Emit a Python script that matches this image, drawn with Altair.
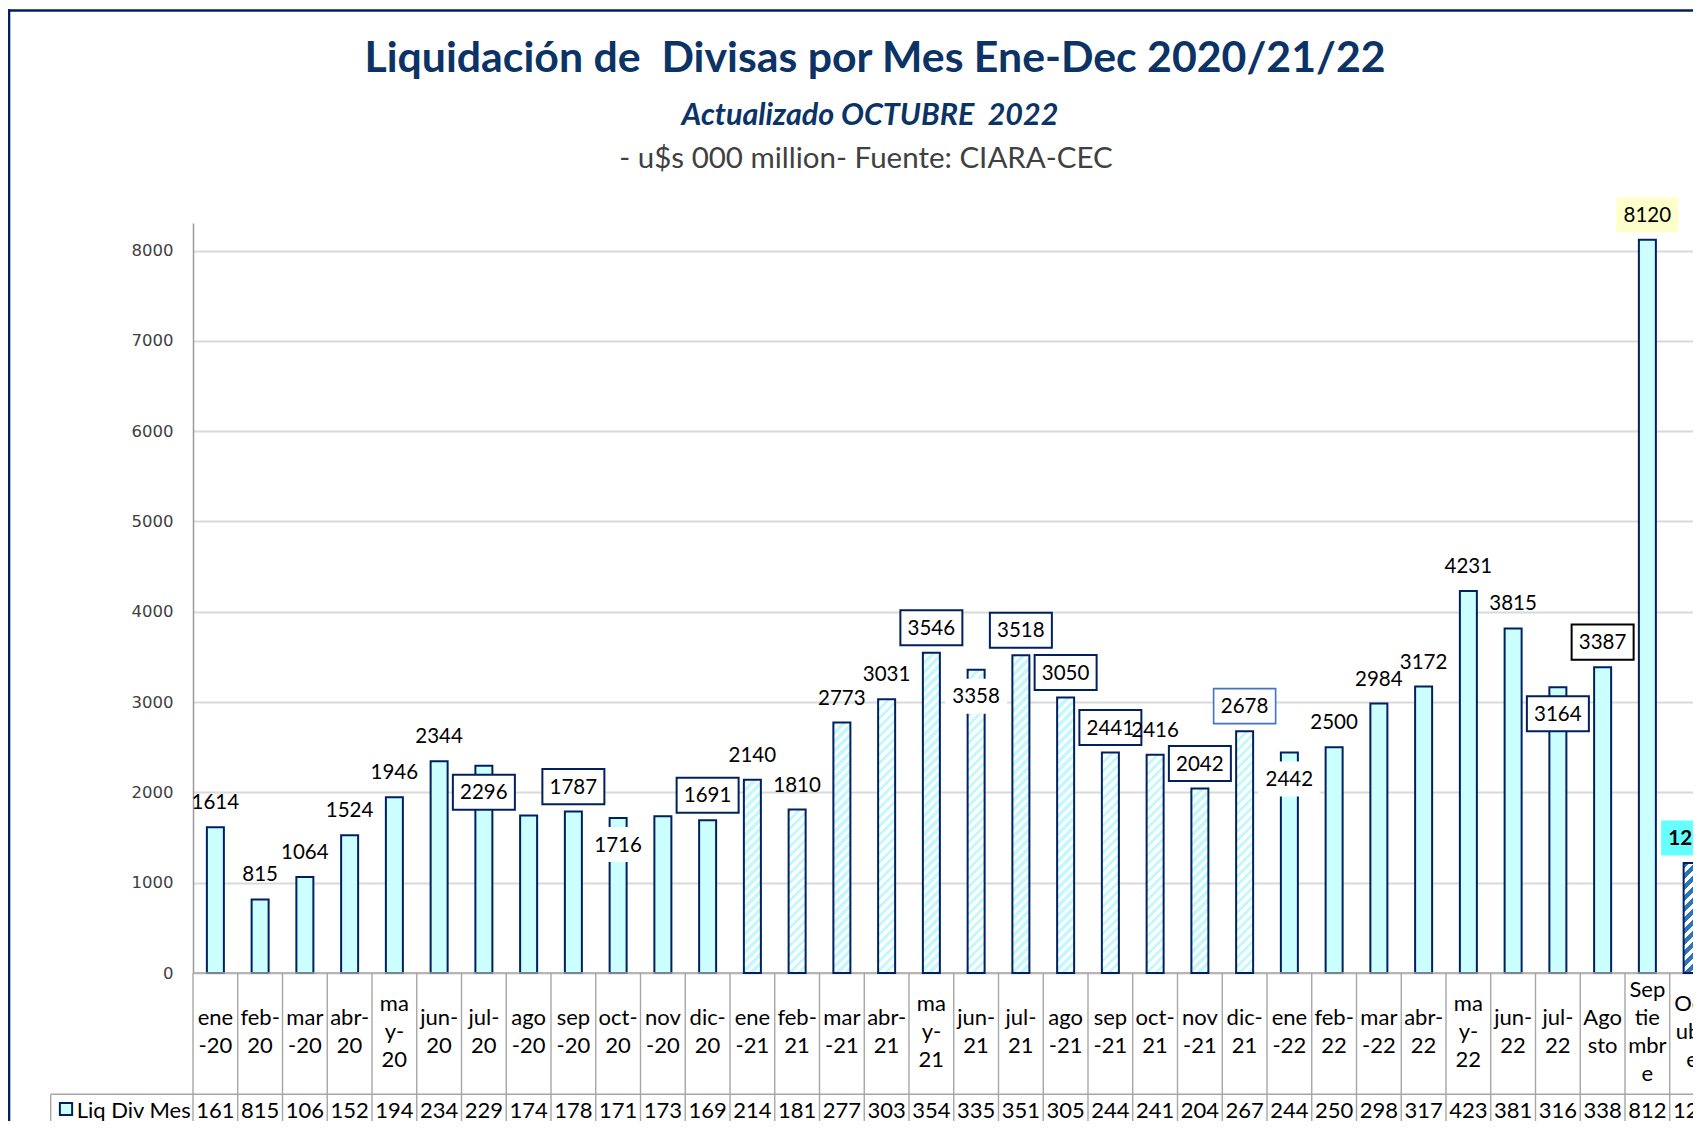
import altair as alt
import pandas as pd

# ---------------- data ----------------
months = ["ene-20", "feb-20", "mar-20", "abr-20", "may-20", "jun-20", "jul-20", "ago-20",
          "sep-20", "oct-20", "nov-20", "dic-20",
          "ene-21", "feb-21", "mar-21", "abr-21", "may-21", "jun-21", "jul-21", "ago-21",
          "sep-21", "oct-21", "nov-21", "dic-21",
          "ene-22", "feb-22", "mar-22", "abr-22", "may-22", "jun-22", "jul-22",
          "Agosto", "Septiembre", "Octubre"]
values = [1614, 815, 1064, 1524, 1946, 2344, 2296, 1745, 1787, 1716, 1736, 1691,
          2140, 1810, 2773, 3031, 3546, 3358, 3518, 3050, 2441, 2416, 2042, 2678,
          2442, 2500, 2984, 3172, 4231, 3815, 3164, 3387, 8120, 1219]
month_labels = ["ene|-20", "feb-|20", "mar|-20", "abr-|20", "ma|y-|20", "jun-|20", "jul-|20",
                "ago|-20", "sep|-20", "oct-|20", "nov|-20", "dic-|20",
                "ene|-21", "feb-|21", "mar|-21", "abr-|21", "ma|y-|21", "jun-|21", "jul-|21",
                "ago|-21", "sep|-21", "oct-|21", "nov|-21", "dic-|21",
                "ene|-22", "feb-|22", "mar|-22", "abr-|22", "ma|y-|22", "jun-|22", "jul-|22",
                "Ago|sto", "Sep|tie|mbr|e", "Oct|ubr|e"]
table_values = ["161", "815", "106", "152", "194", "234", "229", "174", "178", "171", "173", "169",
                "214", "181", "277", "303", "354", "335", "351", "305", "244", "241", "204", "267",
                "244", "250", "298", "317", "423", "381", "316", "338", "812", "121"]
y_ticks = [0, 1000, 2000, 3000, 4000, 5000, 6000, 7000, 8000]

title_text = "Liquidación de \u00a0Divisas por Mes Ene-Dec 2020/21/22"
subtitle_text = "Actualizado OCTUBRE \u00a02022"
source_text = "- u$s 000 million- Fuente: CIARA-CEC"
legend_text = "Liq Div Mes"

# label styles per month
plain_above = ["ene-20", "feb-20", "mar-20", "abr-20", "may-20", "jun-20", "ene-21", "feb-21",
               "mar-21", "abr-21", "oct-21", "feb-22", "mar-22", "abr-22", "may-22", "jun-22"]
box_above = ["sep-20", "dic-20", "may-21", "jul-21", "ago-21", "sep-21", "nov-21"]
lightbox_above = ["dic-21"]
blackbox_above = ["Agosto"]
yellow_above = ["Septiembre"]
cyan_above = ["Octubre"]
box_inside = ["jul-20", "jul-22"]
white_inside = ["oct-20", "jun-21", "ene-22"]
hatched_light = months[12:24]
hatched_dark = ["Octubre"]

# category slot of each month (left edge = slot index, centre = index + 0.5)
df = pd.DataFrame({"m": months, "v": values, "wrap": month_labels, "tbl": table_values,
                   "lbl": [str(v) for v in values],
                   "nl": [s.count("|") + 1 for s in month_labels],
                   "slot": list(range(len(months)))})
df["mid"] = df["slot"] + 0.5

# ---------------- geometry / style ----------------
STEP = 44.75                  # px per month column
W = 1500                      # visible plot width (the chart is cut at the right edge)
H = 750
YMAX = 8305
PPU = H / YMAX
BAR_W = 17
NAVY = "#002060"
TITLE = "#0B3366"
CYAN = "#CCFFFF"
GRID = "#D9D9D9"
TABLE = "#A6A6A6"
FONT = "Lato"
ABOVE = -25
INSIDE = 26.5
TXT_DY = 1
BOX = "M-1,-0.565H1V0.565H-1Z"
BOX_SIZE = 62 * 62
LH = 28.3

xscale = alt.Scale(domain=[0, W / STEP], nice=False, zero=False, padding=0)
xs = alt.X("mid:Q", scale=xscale, axis=None)
xb = alt.X("slot:Q", scale=xscale, axis=None)
ys = alt.Y("v:Q", scale=alt.Scale(domain=[0, YMAX], nice=False, padding=0),
           axis=alt.Axis(values=y_ticks, format="d", title=None, grid=True, gridColor=GRID,
                         gridWidth=2, ticks=False, domainColor="#9A9A9A", domainWidth=1.5,
                         labelFont="DejaVu Sans", labelFontSize=16.5, labelColor="#404040",
                         labelPadding=20))
ys_plain = alt.Y("v:Q", scale=alt.Scale(domain=[0, YMAX], nice=False, padding=0))

base = alt.Chart(df)


def one(d):
    return alt.Chart(alt.Data(values=[d]))


def hatch(v, period, frac, bg, fg):
    h = v * PPU
    s = BAR_W + h
    d = BAR_W * BAR_W + h * h
    stops = []
    k = 0
    while k * period / s < 1:
        a = k * period / s
        b = min((k * period + frac * period) / s, 1)
        c = min((k + 1) * period / s, 1)
        stops += [{"offset": round(a, 5), "color": fg}, {"offset": round(b, 5), "color": fg},
                  {"offset": round(b, 5), "color": bg}, {"offset": round(c, 5), "color": bg}]
        k += 1
    return {"gradient": "linear", "x1": 0, "y1": 0,
            "x2": BAR_W * s / d, "y2": h * s / d, "stops": stops}


layers = []

# frame
layers.append(one({"a": 1}).mark_rule(color=NAVY, strokeWidth=2.6).encode(
    x=alt.value(-186), x2=alt.value(W + 2), y=alt.value(-212.5)))
layers.append(one({"a": 1}).mark_rule(color=NAVY, strokeWidth=2.6).encode(
    x=alt.value(-184), y=alt.value(-213.8), y2=alt.value(H + 160)))

# titles
layers.append(one({"t": title_text}).mark_text(font=FONT, fontWeight="bold", fontSize=42.8,
                                               color=TITLE, align="center", baseline="alphabetic"
                                               ).encode(x=alt.value(682), y=alt.value(-151),
                                                        text="t:N"))
layers.append(one({"t": subtitle_text}).mark_text(font=FONT, fontWeight="bold", fontStyle="italic",
                                                  fontSize=30.5, color=TITLE, align="center",
                                                  baseline="alphabetic"
                                                  ).encode(x=alt.value(677), y=alt.value(-98),
                                                           text="t:N"))
layers.append(one({"t": source_text}).mark_text(font=FONT, fontSize=29.5, color="#404040",
                                                align="center", baseline="alphabetic"
                                                ).encode(x=alt.value(673), y=alt.value(-55),
                                                         text="t:N"))

# axis + bars (solid)
solid = [m for m in months if m not in hatched_light + hatched_dark]
layers.append(base.transform_filter(alt.FieldOneOfPredicate(field="m", oneOf=solid)).mark_bar(
    width=BAR_W, fill=CYAN, stroke=NAVY, strokeWidth=2).encode(x=xs, y=ys))

# baseline & table lines
layers.append(one({"a": 1}).mark_rule(color=TABLE, strokeWidth=1.6).encode(
    x=alt.value(0), x2=alt.value(W), y=alt.value(H)))
layers.append(base.mark_rule(color=TABLE, strokeWidth=1.4).encode(
    x=xb, y=alt.value(H), y2=alt.value(H + 160)))
layers.append(one({"a": 1}).mark_rule(color=TABLE, strokeWidth=1.4).encode(
    x=alt.value(-142.3), x2=alt.value(W), y=alt.value(871.3)))
layers.append(one({"a": 1}).mark_rule(color=TABLE, strokeWidth=1.4).encode(
    x=alt.value(-142.3), y=alt.value(871.3), y2=alt.value(H + 160)))

# hatched bars
for m, v in zip(months, values):
    if m in hatched_light:
        g = hatch(v, 9, 0.5, "#FFFFFF", "#C4F8FF")
    elif m in hatched_dark:
        g = hatch(v, 11, 0.5, "#FFFFFF", "#2E75B6")
    else:
        continue
    layers.append(base.transform_filter(alt.datum.m == m).mark_bar(
        width=BAR_W, fill=g, stroke=NAVY, strokeWidth=2).encode(x=xs, y=ys_plain))


# label backgrounds
def bg(sel, off, fill, stroke=None, sw=0):
    kw = dict(shape=BOX, size=BOX_SIZE, filled=True, fill=fill, opacity=1, yOffset=off)
    if stroke:
        kw.update(stroke=stroke, strokeWidth=sw)
    else:
        kw.update(strokeWidth=0)
    return base.transform_filter(alt.FieldOneOfPredicate(field="m", oneOf=sel)).mark_point(
        **kw).encode(x=xs, y=ys_plain)


layers.append(bg(box_above, ABOVE, "#FFFFFF", NAVY, 2))
layers.append(bg(lightbox_above, ABOVE, "#FFFFFF", "#4472C4", 1.6))
layers.append(bg(blackbox_above, ABOVE, "#FFFFFF", "#000000", 2))
layers.append(bg(yellow_above, ABOVE, "#FFFFCC"))
layers.append(bg(cyan_above, ABOVE, "#66FFFF"))
layers.append(bg(box_inside, INSIDE, "#FFFFFF", NAVY, 2))
layers.append(bg(white_inside, INSIDE, "#FFFFFF"))


def lbl(sel, off, weight="normal"):
    return base.transform_filter(alt.FieldOneOfPredicate(field="m", oneOf=sel)).mark_text(
        font=FONT, fontSize=20.5, fontWeight=weight, color="#000000", align="center",
        baseline="middle", yOffset=off + TXT_DY).encode(x=xs, y=ys_plain, text="lbl:N")


layers.append(lbl(plain_above + box_above + lightbox_above + blackbox_above + yellow_above, ABOVE))
layers.append(lbl(cyan_above, ABOVE, "bold"))
layers.append(lbl(box_inside + white_inside, INSIDE))

# data table texts (category labels, centred by number of lines)
for n in sorted(set(df["nl"])):
    layers.append(base.transform_filter(alt.datum.nl == n).mark_text(
        font=FONT, fontSize=22, lineHeight=LH, lineBreak="|", color="#000000", align="center",
        baseline="middle").encode(x=xs, y=alt.value(812 - 3 - (n - 1) * LH / 2), text="wrap:N"))
layers.append(base.mark_text(font=FONT, fontSize=22, color="#000000", align="center",
                             baseline="middle").encode(x=xs, y=alt.value(888), text="tbl:N"))
layers.append(one({"t": legend_text}).mark_text(font=FONT, fontSize=22, color="#000000",
                                                align="left", baseline="middle").encode(
    x=alt.value(-116.3), y=alt.value(888), text="t:N"))
layers.append(one({"a": 1}).mark_point(shape="square", size=150, filled=True, fill=CYAN,
                                       stroke=NAVY, strokeWidth=2, opacity=1).encode(
    x=alt.value(-127), y=alt.value(886)))

# page is 1701 x 1129: 8 px margins around a 1685 x 1113 chart
chart = alt.layer(*layers).properties(
    width=W, height=H,
    padding={"left": 185, "top": 215, "right": 0, "bottom": 148},
    autosize=alt.AutoSizeParams(type="none"),
    background="#FFFFFF",
).configure_view(strokeWidth=0)

chart.save("out.html", embed_options={"renderer": "svg", "actions": False})
